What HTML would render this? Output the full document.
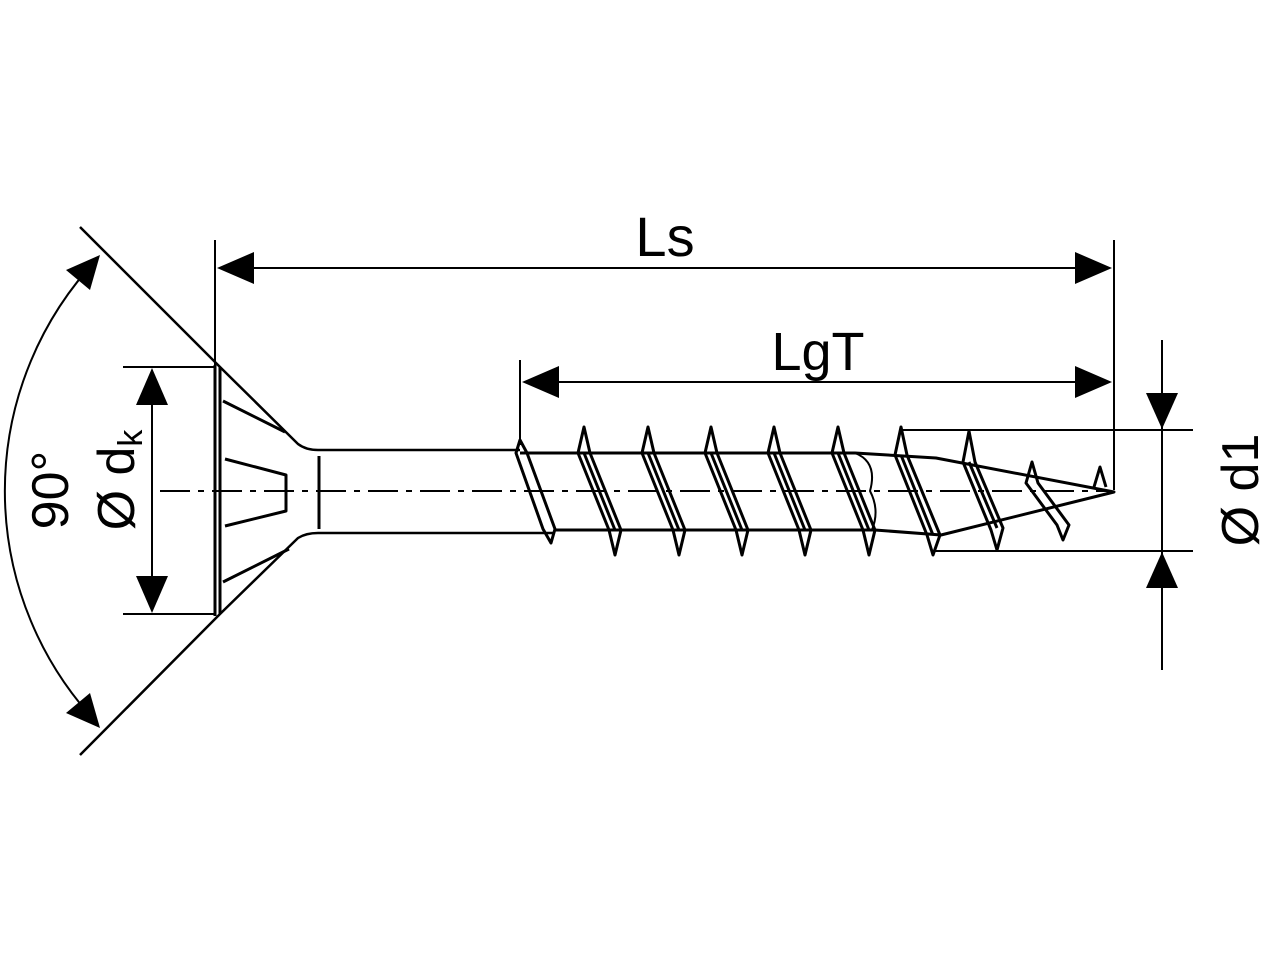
<!DOCTYPE html>
<html><head><meta charset="utf-8"><style>
html,body{margin:0;padding:0;background:#fff;width:1280px;height:960px;overflow:hidden}
svg{display:block}
text{font-family:"Liberation Sans",sans-serif;fill:#000}
</style></head><body>
<svg width="1280" height="960" viewBox="0 0 1280 960" xmlns="http://www.w3.org/2000/svg">
<g stroke="#000" stroke-width="3" fill="none" stroke-linejoin="round">
<!-- centerline -->
<line x1="160" y1="491" x2="1110" y2="491" stroke-dasharray="30,8,6,8" stroke-width="2"/>
<!-- head -->
<line x1="215" y1="365" x2="215" y2="616"/>
<line x1="220" y1="367" x2="220" y2="614"/>
<path d="M80,227 L220,367 L298,444 Q306,450 318,450 L520,450" stroke-width="2.5"/>
<path d="M80,755 L220,614 L298,538 Q306,533 318,533 L555,533" stroke-width="2.5"/>
<path d="M223,401 L285,432"/>
<path d="M223,582 L289,549"/>
<path d="M225,459 L286,475 L286,511 L225,526"/>
<line x1="319" y1="456" x2="319" y2="529"/>
<!-- 90 arc -->
<path d="M98,258 A338,338 0 0 0 98,724" stroke-width="2"/>
<!-- dk -->
<line x1="123" y1="367" x2="215" y2="367" stroke-width="2"/>
<line x1="123" y1="614" x2="215" y2="614" stroke-width="2"/>
<line x1="152" y1="380" x2="152" y2="600" stroke-width="2"/>
<!-- Ls -->
<line x1="215" y1="240" x2="215" y2="365" stroke-width="2"/>
<line x1="1114" y1="240" x2="1114" y2="490" stroke-width="2"/>
<line x1="230" y1="268" x2="1100" y2="268" stroke-width="2"/>
<!-- LgT -->
<line x1="520" y1="360" x2="520" y2="445" stroke-width="2"/>
<line x1="535" y1="382" x2="1100" y2="382" stroke-width="2"/>
<!-- d1 -->
<line x1="900" y1="430" x2="1193" y2="430" stroke-width="2"/>
<line x1="935" y1="551" x2="1193" y2="551" stroke-width="2"/>
<line x1="1162" y1="340" x2="1162" y2="670" stroke-width="2"/>
<!-- thread core -->
<path d="M520,453 L855,453 L936,458 L1114,492 L941,535 L875,530 L555,530"/>
<path d="M855,453 Q878,462 870,491 Q880,510 872,530" stroke-width="2"/>
<!-- flights -->
<path d="M520,440 L527,453 L555,529 L551,543 L543,529 L516,453 Z"/>
<path d="M584,427 L590,453 L621,530 L615,555 L609,530 L578,453 Z M584,453 L615,530"/>
<path d="M648,427 L654,453 L685,530 L679,555 L673,530 L642,453 Z M648,453 L679,530"/>
<path d="M711,427 L717,453 L748,530 L742,555 L736,530 L705,453 Z M711,453 L742,530"/>
<path d="M774,427 L780,453 L811,530 L805,555 L799,530 L768,453 Z M774,453 L805,530"/>
<path d="M838,427 L844,453 L875,530 L869,555 L863,530 L832,453 Z M838,453 L869,530"/>
<path d="M901,427 L907,455 L940,535 L933,555 L927,535 L895,455 Z M901,455 L933,535"/>
<path d="M969,431 L975,462 L1003,528 L997,550 L991,530 L963,462 Z M969,462 L997,528"/>
<path d="M1032,462 L1038,483 L1069,525 L1063,540 L1057,525 L1026,483 Z"/>
<path d="M1106,487 L1100,467 L1094,487"/>
</g>
<g fill="#000">
<polygon points="100,255 66,270 90,290"/>
<polygon points="100,728 66,713 90,693"/>
<polygon points="152,368 136,405 168,405"/>
<polygon points="152,613 136,576 168,576"/>
<polygon points="217,268 254,252 254,284"/>
<polygon points="1112,268 1075,252 1075,284"/>
<polygon points="522,382 559,366 559,398"/>
<polygon points="1112,382 1075,366 1075,398"/>
<polygon points="1162,429 1146,393 1178,393"/>
<polygon points="1162,552 1146,588 1178,588"/>
</g>
<text x="665" y="256" font-size="56" text-anchor="middle">Ls</text>
<text x="818" y="370" font-size="54" text-anchor="middle">LgT</text>
<text transform="translate(1258,490) rotate(-90)" font-size="52" text-anchor="middle">Ø d1</text>
<text transform="translate(68,490) rotate(-90)" font-size="52" text-anchor="middle">90°</text>
<text transform="translate(134,480) rotate(-90)" font-size="52" text-anchor="middle">Ø d<tspan font-size="34" dy="8">k</tspan></text>
</svg>
</body></html>
